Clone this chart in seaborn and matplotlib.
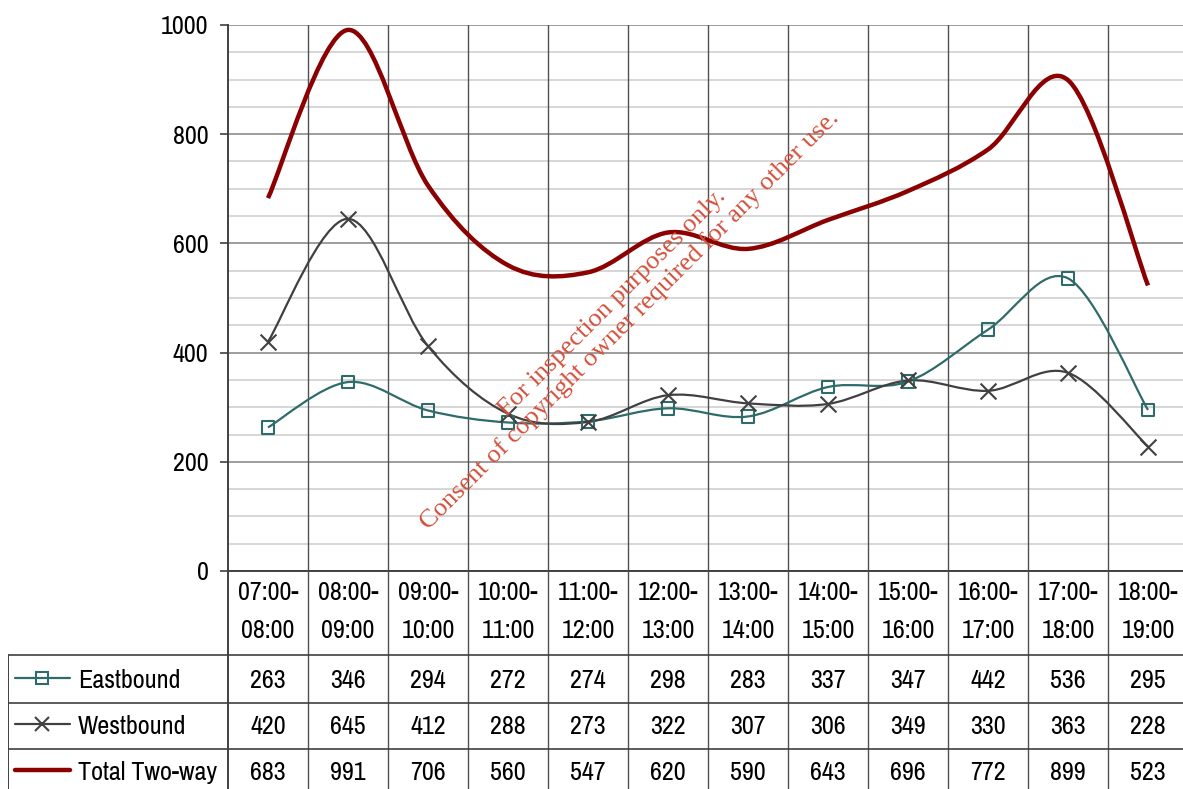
import numpy as np
import pandas as pd
import matplotlib
matplotlib.use("Agg")
import matplotlib.pyplot as plt
from matplotlib import font_manager as fm
from matplotlib.path import Path
from matplotlib.patches import PathPatch
from matplotlib.lines import Line2D
import seaborn as sns

# ---------------- data ----------------
periods = ["07:00-\n08:00", "08:00-\n09:00", "09:00-\n10:00", "10:00-\n11:00",
           "11:00-\n12:00", "12:00-\n13:00", "13:00-\n14:00", "14:00-\n15:00",
           "15:00-\n16:00", "16:00-\n17:00", "17:00-\n18:00", "18:00-\n19:00"]
eastbound = [263, 346, 294, 272, 274, 298, 283, 337, 347, 442, 536, 295]
westbound = [420, 645, 412, 288, 273, 322, 307, 306, 349, 330, 363, 228]
total = [683, 991, 706, 560, 547, 620, 590, 643, 696, 772, 899, 523]
series_names = ["Eastbound", "Westbound", "Total Two-way"]
y_ticks = [0, 200, 400, 600, 800, 1000]
watermark = "For inspection purposes only.\nConsent of copyright owner required for any other use."

# ---------------- style ----------------
sns.set_theme(style="white")
fam, fs = "Liberation Sans", 16
for cand, size in [("Liberation Sans Narrow", 18.5), ("Arial Narrow", 18.5),
                   ("Archivo Narrow", 18.8), ("Roboto Condensed", 18)]:
    try:
        fm.findfont(cand, fallback_to_default=False)
        fam, fs = cand, size
        break
    except Exception:
        pass
plt.rcParams["font.family"] = [fam, "DejaVu Sans"]
plt.rcParams["text.color"] = "black"
plt.rcParams["ytick.color"] = "black"

C_EAST = "#2f6b6b"
C_WEST = "#404040"
C_TOT = "#8b0000"
C_WM = "#d2503c"
C_GRID_MAJ = "#8c8c8c"
C_GRID_MIN = "#cfcfcf"
C_VLINE = "#505050"

W, H = 1183, 789
fig = plt.figure(figsize=(W / 100, H / 100), dpi=100)

px_left, px_right = 228, 1188
px_top, px_axis = 25, 571
ax = fig.add_axes([px_left / W, (H - px_axis) / H, (px_right - px_left) / W, (px_axis - px_top) / H])

n = len(periods)
xs = np.arange(n)

df = pd.DataFrame({"x": np.tile(xs, 3),
                   "value": eastbound + westbound + total,
                   "series": np.repeat(series_names, n)})

ax.set_xlim(-0.5, n - 0.5)
ax.set_ylim(0, 1000)

# grid
for yv in np.arange(0, 1001, 50):
    if yv % 200 == 0:
        ax.axhline(yv, color=C_GRID_MAJ, lw=1.2, zorder=1)
    else:
        ax.axhline(yv, color=C_GRID_MIN, lw=1.2, zorder=0.9)
for b in np.arange(0.5, n - 0.5, 1):
    ax.axvline(b, color=C_VLINE, lw=1.0, zorder=1.1)


def smooth_path(xv, yv):
    pts = np.column_stack([xv, yv]).astype(float)
    verts = [pts[0]]
    codes = [Path.MOVETO]
    m = len(pts)
    for i in range(m - 1):
        p0 = pts[i - 1] if i > 0 else pts[i]
        p1 = pts[i]
        p2 = pts[i + 1]
        p3 = pts[i + 2] if i + 2 < m else pts[i + 1]
        c1 = p1 + (p2 - p0) / 6.0
        c2 = p2 - (p3 - p1) / 6.0
        verts += [c1, c2, p2]
        codes += [Path.CURVE4] * 3
    return Path(verts, codes)


for vals, col, lw in [(eastbound, C_EAST, 1.6), (westbound, C_WEST, 1.6), (total, C_TOT, 3.2)]:
    ax.add_patch(PathPatch(smooth_path(xs, vals), facecolor="none", edgecolor=col,
                           lw=lw, zorder=3, capstyle="butt", joinstyle="round"))

sns.scatterplot(data=df[df.series == "Eastbound"], x="x", y="value", marker="s", s=80,
                facecolor="none", edgecolor=C_EAST, linewidth=1.5, ax=ax, zorder=4, legend=False)
sns.scatterplot(data=df[df.series == "Westbound"], x="x", y="value", marker="x", s=130,
                color=C_WEST, linewidth=1.5, ax=ax, zorder=4, legend=False)

ax.set_xlabel("")
ax.set_ylabel("")
ax.set_xticks([])
ax.set_yticks(y_ticks)
ax.set_yticklabels([str(t) for t in y_ticks], fontsize=fs, color="black")
ax.tick_params(axis="y", direction="out", length=6, width=1.2, color="#404040", pad=8, left=True)
for s in ["top", "right"]:
    ax.spines[s].set_visible(False)
ax.spines["left"].set_color("#404040")
ax.spines["left"].set_linewidth(1.4)
ax.spines["bottom"].set_color("#404040")
ax.spines["bottom"].set_linewidth(1.4)

# watermark
ax.text(4.42, 475, watermark, rotation=45, rotation_mode="anchor", ha="center", va="center",
        multialignment="center", fontsize=19, family=["Liberation Serif", "DejaVu Serif"],
        color=C_WM, zorder=5, linespacing=1.1)

# ---------------- data table ----------------
px_tab_left = 8
tax = fig.add_axes([px_tab_left / W, 0, (px_right - px_tab_left) / W, (H - px_axis) / H])
cat_w = (px_right - px_left) / n
x_left = -0.5 - (px_left - px_tab_left) / cat_w
tax.set_xlim(x_left, n - 0.5)
tax.set_ylim(H - px_axis, 0)
tax.axis("off")

hdr_h = 84
row_edges = [84, 132, 178]
row_text = [109, 155, 201]
bot = H - px_axis

tax.plot([-0.5, -0.5], [0, bot], color="#404040", lw=1.4, clip_on=False)
for b in np.arange(0.5, n - 0.5, 1):
    tax.plot([b, b], [0, bot], color=C_VLINE, lw=1.0)
tax.plot([x_left, x_left], [hdr_h, bot], color="#404040", lw=1.4)
for ye in row_edges:
    tax.plot([x_left, n - 0.5], [ye, ye], color="#404040", lw=1.2)

for i, lab in enumerate(periods):
    l1, l2 = lab.split("\n")
    tax.text(i, 22, l1, ha="center", va="center", fontsize=fs)
    tax.text(i, 59, l2, ha="center", va="center", fontsize=fs)

rows = [eastbound, westbound, total]
for r, vals in enumerate(rows):
    for i, v in enumerate(vals):
        tax.text(i, row_text[r], str(v), ha="center", va="center", fontsize=fs)

# legend keys
def px2x(px):
    return x_left + (px - px_tab_left) / cat_w

styles = [dict(color=C_EAST, lw=1.6, marker="s", ms=8, mfc="none", mew=1.5),
          dict(color=C_WEST, lw=1.6, marker="x", ms=10, mew=1.5),
          dict(color=C_TOT, lw=3.2, marker=None)]
for r, (name, st) in enumerate(zip(series_names, styles)):
    y = row_text[r] - 2
    tax.add_line(Line2D([px2x(15), px2x(70)], [y, y], color=st["color"], lw=st["lw"]))
    if st["marker"]:
        tax.add_line(Line2D([px2x(42)], [y], linestyle="none", marker=st["marker"], ms=st["ms"],
                            mfc=st.get("mfc", st["color"]), mec=st["color"], mew=st["mew"]))
    tax.text(px2x(78), row_text[r], name, ha="left", va="center", fontsize=fs)

fig.savefig("out.png", dpi=100, facecolor="white")
